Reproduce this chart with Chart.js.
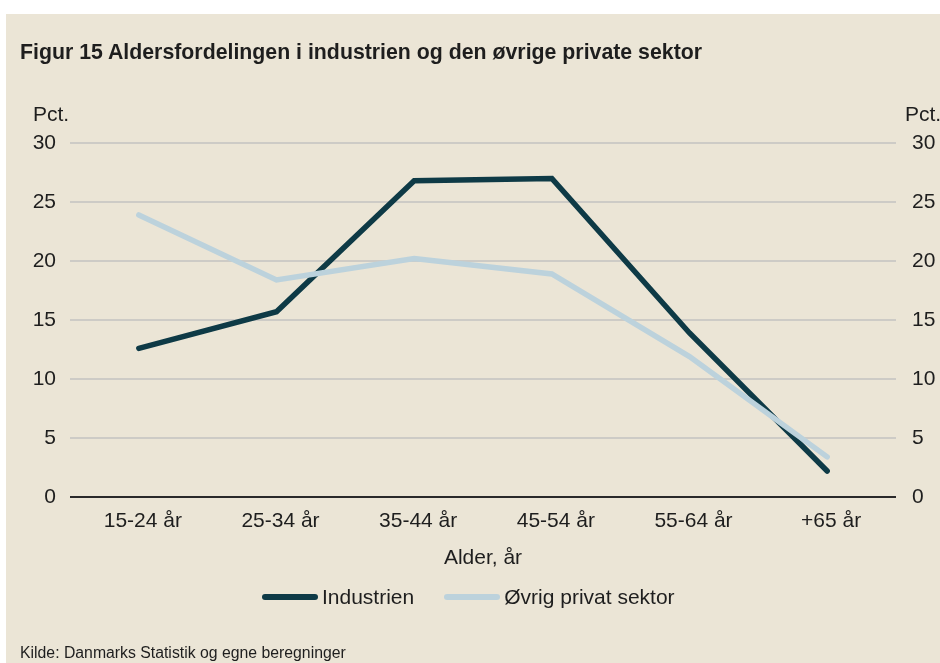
<!DOCTYPE html>
<html>
<head>
<meta charset="utf-8">
<script src="https://cdn.jsdelivr.net/npm/chart.js@4/dist/chart.umd.min.js"></script>
<style>
  html, body { margin:0; padding:0; background:#ffffff; }
  #wrap { position:relative; width:940px; height:663px; overflow:hidden; background:#ffffff; font-family:"Liberation Sans", Arial, sans-serif; }
  #bg { position:absolute; left:6px; top:14px; width:934px; height:649px; background:#EBE5D6; }
  #c { position:absolute; left:0; top:0; }
  .txt { position:absolute; color:#1e1e1e; white-space:nowrap; line-height:21px; }
  #title { left:20px; top:42px; font-size:21.3px; font-weight:bold; }
  #pctL { left:33px; top:103px; font-size:21px; }
  #pctR { left:905px; top:103px; font-size:21px; }
  #src { left:20px; top:645px; font-size:15.8px; line-height:15.8px; }
  #legend { position:absolute; left:262px; top:586px; font-size:21px; line-height:21px; color:#1e1e1e; white-space:nowrap; }
  .item { display:inline-block; }
  .item + .item { margin-left:30px; }
  .sw { display:inline-block; width:56px; height:6px; border-radius:3px; vertical-align:middle; margin-right:4px; position:relative; top:-1px; }
</style>
</head>
<body>
<div id="wrap">
  <div id="bg"></div>
  <canvas id="c" width="940" height="663"></canvas>
  <div class="txt" id="title">Figur 15 Aldersfordelingen i industrien og den øvrige private sektor</div>
  <div class="txt" id="pctL">Pct.</div>
  <div class="txt" id="pctR">Pct.</div>
  <div id="legend"></div>
  <div class="txt" id="src">Kilde: Danmarks Statistik og egne beregninger</div>
</div>
<script>
const categories = ["15-24 år", "25-34 år", "35-44 år", "45-54 år", "55-64 år", "+65 år"];
const industrien = [12.6, 15.7, 26.8, 27.0, 13.9, 2.2];
const oevrig = [23.9, 18.4, 20.2, 18.9, 11.9, 3.4];
const yTicks = [0, 5, 10, 15, 20, 25, 30];
const seriesNames = ["Industrien", "Øvrig privat sektor"];
const seriesColors = ["#0E3A46", "#BCD2DC"];

const legend = document.getElementById('legend');
seriesNames.forEach((n, i) => {
  const s = document.createElement('span');
  s.className = 'item';
  s.innerHTML = '<span class="sw" style="background:' + seriesColors[i] + '"></span>' + n;
  legend.appendChild(s);
});

const font = { family: '"Liberation Sans", Arial, sans-serif', size: 21 };
new Chart(document.getElementById('c'), {
  type: 'line',
  data: {
    labels: categories,
    datasets: [
      { label: seriesNames[1], data: oevrig, borderColor: seriesColors[1], borderWidth: 5.5, pointRadius: 0, tension: 0, borderCapStyle: 'round', borderJoinStyle: 'miter' },
      { label: seriesNames[0], data: industrien, borderColor: seriesColors[0], borderWidth: 5.5, pointRadius: 0, tension: 0, borderCapStyle: 'round', borderJoinStyle: 'miter' }
    ]
  },
  options: {
    responsive: false,
    animation: false,
    layout: { padding: { left: 0, right: 0, top: 143, bottom: 0 } },
    plugins: { legend: { display: false }, tooltip: { enabled: false } },
    scales: {
      x: {
        offset: true,
        afterFit: (ax) => { ax.height = 166; },
        grid: { display: false, drawTicks: false },
        border: { display: false },
        ticks: { font: font, color: '#1e1e1e', padding: 12, maxRotation: 0, labelOffset: 4 },
        title: { display: true, text: 'Alder, år', font: font, color: '#1e1e1e', padding: { top: 1, bottom: 92 } }
      },
      y: {
        position: 'left',
        min: 0, max: 30,
        afterFit: (ax) => { ax.width = 70; },
        afterBuildTicks: (ax) => { ax.ticks = yTicks.map(v => ({ value: v })); },
        grid: { drawTicks: false, lineWidth: 2, color: (ctx) => ctx.tick && ctx.tick.value === 0 ? '#2a2a2a' : '#CDCBC6' },
        border: { display: false },
        ticks: { font: font, color: '#1e1e1e', padding: 14 }
      },
      y2: {
        position: 'right',
        min: 0, max: 30,
        afterFit: (ax) => { ax.width = 44; },
        afterBuildTicks: (ax) => { ax.ticks = yTicks.map(v => ({ value: v })); },
        grid: { display: false, drawTicks: false },
        border: { display: false },
        ticks: { font: font, color: '#1e1e1e', padding: 16 }
      }
    }
  }
});
</script>
</body>
</html>
